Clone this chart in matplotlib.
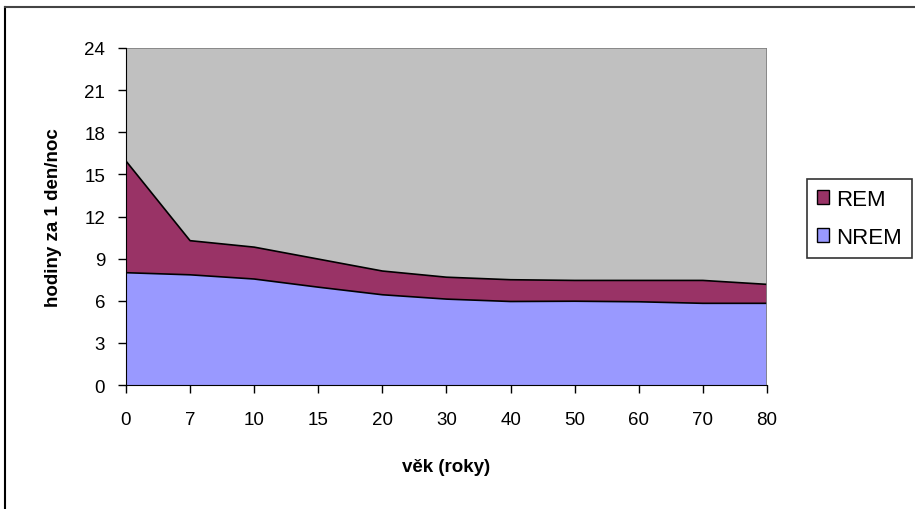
import matplotlib.pyplot as plt
import numpy as np
from matplotlib.lines import Line2D
from matplotlib.patches import Patch

plt.rcParams['font.family'] = ['Liberation Sans', 'DejaVu Sans']

ages = ["0", "7", "10", "15", "20", "30", "40", "50", "60", "70", "80"]
nrem = [8.0, 7.85, 7.55, 6.97, 6.43, 6.12, 5.95, 5.97, 5.93, 5.82, 5.82]
rem_top = [15.95, 10.28, 9.82, 8.97, 8.12, 7.68, 7.5, 7.45, 7.45, 7.45, 7.17]
total = 24

x = np.arange(len(ages))
nrem = np.array(nrem)
rem = np.array(rem_top) - nrem

fig = plt.figure(figsize=(9.15, 5.1), dpi=100)
ax = fig.add_axes([0.1377, 0.243, 0.7005, 0.661])

ax.fill_between(x, 0, total, color='#C0C0C0', linewidth=0)
ax.fill_between(x, nrem, nrem + rem, facecolor='#993366', edgecolor='none')
ax.fill_between(x, 0, nrem, facecolor='#9999FF', edgecolor='none')
ax.plot(x, nrem + rem, color='black', lw=1.2)
ax.plot(x, nrem, color='black', lw=1.2)
ax.plot([x[0], x[-1]], [total, total], color='#808080', lw=1.2)
ax.plot([x[-1], x[-1]], [0, total], color='#808080', lw=1.2)

ax.set_xlim(x[0], x[-1])
ax.set_ylim(0, 24)
ax.set_xticks(x)
ax.set_xticklabels(ages)
ax.set_yticks(np.arange(0, 25, 3))
for s in ['top', 'right']:
    ax.spines[s].set_visible(False)
ax.tick_params(axis='both', labelsize=13.5, direction='out', length=6, width=1, colors='black')
ax.tick_params(axis='x', pad=13)
ax.tick_params(axis='y', pad=9)
ax.set_xlabel('věk (roky)', fontsize=13.5, fontweight='bold', labelpad=21)
ax.set_ylabel('hodiny za 1 den/noc', fontsize=13.5, fontweight='bold', labelpad=16)

handles = [Patch(facecolor='#993366', edgecolor='black', label='REM'),
           Patch(facecolor='#9999FF', edgecolor='black', label='NREM')]
leg = fig.legend(handles=handles, loc='upper left', bbox_to_anchor=(0.882, 0.647),
                 fontsize=16, frameon=True, fancybox=False, edgecolor='black',
                 handlelength=0.55, handleheight=0.55, handletextpad=0.3,
                 borderpad=0.45, labelspacing=0.75, borderaxespad=0)
leg.get_frame().set_linewidth(1.2)

# outer chart frame (left and top edges visible)
fig.add_artist(Line2D([0.0055, 0.0055], [0.0, 0.984], transform=fig.transFigure, color='black', lw=1.5))
fig.add_artist(Line2D([0.0055, 1.0], [0.984, 0.984], transform=fig.transFigure, color='#444444', lw=1.5))

fig.savefig('out.png', dpi=100, facecolor='white')
